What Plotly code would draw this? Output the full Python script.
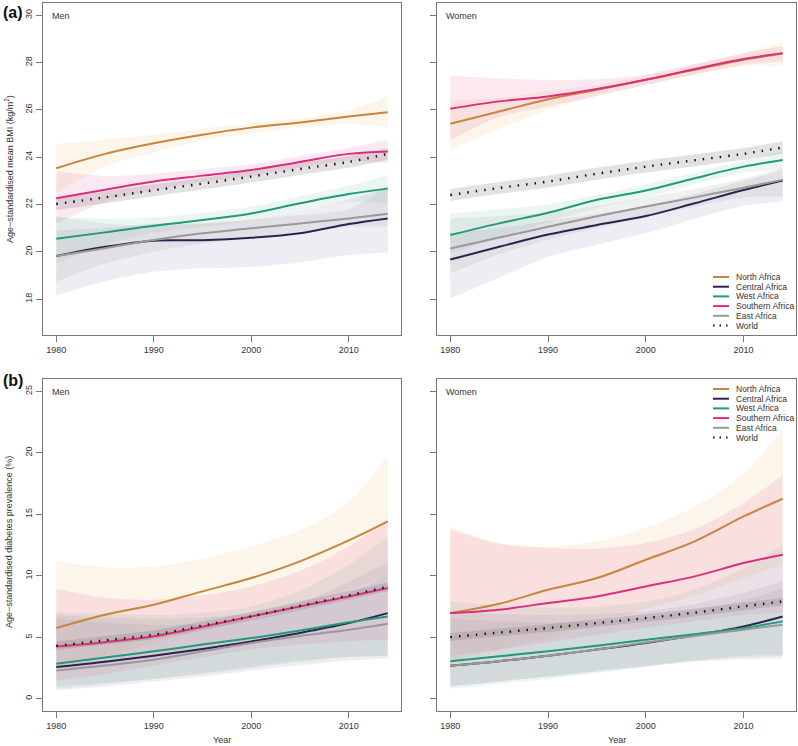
import plotly.graph_objs as go

W, H = 798, 746

years = [1980, 1985, 1990, 1995, 2000, 2005, 2010, 2014]
regions = ["North Africa", "Central Africa", "West Africa", "Southern Africa", "East Africa", "World"]
x_ticks = [1980, 1990, 2000, 2010]
bmi_ticks = [18, 20, 22, 24, 26, 28, 30]
dm_ticks = [0, 5, 10, 15, 20, 25]

# BMI, men (kg/m2)
bmi_men = {
    "North Africa":    [23.53, 24.14, 24.59, 24.95, 25.25, 25.47, 25.72, 25.90],
    "Central Africa":  [19.82, 20.21, 20.47, 20.49, 20.59, 20.78, 21.17, 21.41],
    "West Africa":     [20.55, 20.82, 21.10, 21.34, 21.62, 22.05, 22.44, 22.67],
    "Southern Africa": [22.26, 22.62, 22.97, 23.22, 23.46, 23.80, 24.14, 24.24],
    "East Africa":     [19.82, 20.15, 20.50, 20.78, 20.99, 21.20, 21.41, 21.61],
    "World":           [22.02, 22.30, 22.60, 22.88, 23.18, 23.50, 23.80, 24.14],
}
bmi_men_lo = {
    "North Africa":    [22.50, 23.60, 24.20, 24.70, 25.00, 25.25, 25.40, 25.27],
    "Central Africa":  [18.16, 18.75, 19.15, 19.30, 19.36, 19.55, 19.86, 19.97],
    "West Africa":     [19.50, 20.30, 20.80, 21.05, 21.30, 21.70, 22.10, 22.05],
    "Southern Africa": [21.20, 22.10, 22.60, 22.95, 23.20, 23.55, 23.85, 23.74],
    "East Africa":     [18.73, 19.50, 20.00, 20.35, 20.60, 20.85, 21.05, 21.06],
    "World":           [21.77, 22.05, 22.35, 22.63, 22.93, 23.25, 23.55, 23.89],
}
bmi_men_hi = {
    "North Africa":    [24.56, 24.75, 24.95, 25.20, 25.45, 25.65, 26.00, 26.57],
    "Central Africa":  [20.90, 21.00, 21.20, 21.20, 21.35, 21.70, 22.20, 22.75],
    "West Africa":     [21.48, 21.40, 21.45, 21.65, 21.90, 22.35, 22.80, 23.25],
    "Southern Africa": [23.39, 23.20, 23.30, 23.50, 23.70, 24.05, 24.40, 24.73],
    "East Africa":     [21.48, 21.20, 21.10, 21.20, 21.35, 21.55, 21.80, 22.80],
    "World":           [22.27, 22.55, 22.85, 23.13, 23.43, 23.75, 24.05, 24.39],
}

# BMI, women (kg/m2)
bmi_women = {
    "North Africa":    [25.41, 25.93, 26.45, 26.85, 27.27, 27.70, 28.12, 28.38],
    "Central Africa":  [19.67, 20.21, 20.73, 21.13, 21.51, 22.05, 22.61, 23.01],
    "West Africa":     [20.71, 21.20, 21.65, 22.20, 22.59, 23.11, 23.60, 23.88],
    "Southern Africa": [26.05, 26.36, 26.57, 26.88, 27.27, 27.73, 28.15, 28.40],
    "East Africa":     [20.14, 20.60, 21.06, 21.50, 21.91, 22.30, 22.71, 23.04],
    "World":           [22.40, 22.70, 22.97, 23.30, 23.60, 23.87, 24.14, 24.41],
}
bmi_women_lo = {
    "North Africa":    [24.31, 25.20, 26.00, 26.60, 27.05, 27.50, 27.85, 27.84],
    "Central Africa":  [18.02, 18.90, 19.79, 20.30, 20.78, 21.40, 21.95, 22.12],
    "West Africa":     [19.93, 20.60, 21.25, 21.85, 22.30, 22.85, 23.35, 23.46],
    "Southern Africa": [24.73, 25.70, 26.14, 26.60, 27.05, 27.50, 27.90, 28.05],
    "East Africa":     [19.08, 19.90, 20.50, 21.00, 21.45, 21.90, 22.30, 22.33],
    "World":           [22.15, 22.45, 22.72, 23.05, 23.35, 23.62, 23.89, 24.16],
}
bmi_women_hi = {
    "North Africa":    [26.40, 26.50, 26.80, 27.05, 27.45, 27.90, 28.40, 28.86],
    "Central Africa":  [20.78, 21.00, 21.30, 21.60, 21.95, 22.45, 23.00, 23.46],
    "West Africa":     [21.62, 21.80, 22.00, 22.40, 22.85, 23.35, 23.85, 24.24],
    "Southern Africa": [27.44, 27.33, 27.27, 27.30, 27.50, 27.95, 28.40, 28.69],
    "East Africa":     [21.41, 21.50, 21.65, 21.95, 22.30, 22.65, 23.10, 23.53],
    "World":           [22.65, 22.95, 23.22, 23.55, 23.85, 24.12, 24.39, 24.66],
}

# diabetes prevalence, men (%)
dm_men = {
    "North Africa":    [5.75, 6.83, 7.64, 8.73, 9.81, 11.17, 12.87, 14.42],
    "Central Africa":  [2.57, 3.00, 3.50, 4.05, 4.66, 5.35, 6.15, 6.96],
    "West Africa":     [2.85, 3.35, 3.85, 4.40, 4.93, 5.55, 6.21, 6.69],
    "Southern Africa": [4.25, 4.60, 5.07, 5.85, 6.69, 7.50, 8.32, 9.00],
    "East Africa":     [2.30, 2.70, 3.17, 3.85, 4.53, 5.10, 5.61, 6.10],
    "World":           [4.30, 4.75, 5.20, 5.95, 6.70, 7.55, 8.40, 9.10],
}
dm_men_lo = {
    "North Africa":    [2.50, 3.50, 4.50, 5.50, 6.50, 7.50, 8.80, 10.00],
    "Central Africa":  [0.70, 1.00, 1.40, 1.80, 2.30, 2.70, 3.10, 3.30],
    "West Africa":     [0.80, 1.20, 1.60, 2.00, 2.50, 3.00, 3.40, 3.50],
    "Southern Africa": [1.50, 2.00, 2.70, 3.40, 4.00, 4.40, 4.70, 4.80],
    "East Africa":     [1.00, 1.30, 1.60, 2.10, 2.60, 3.10, 3.40, 3.50],
    "World":           [3.95, 4.40, 4.85, 5.60, 6.35, 7.20, 8.05, 8.75],
}
dm_men_hi = {
    "North Africa":    [11.17, 10.70, 10.76, 11.40, 12.40, 13.70, 16.00, 19.80],
    "Central Africa":  [6.80, 6.60, 6.50, 6.60, 7.00, 7.80, 9.50, 11.10],
    "West Africa":     [7.00, 6.90, 6.80, 7.00, 7.50, 8.80, 10.90, 13.20],
    "Southern Africa": [8.94, 8.20, 8.05, 8.40, 9.13, 10.40, 12.38, 14.69],
    "East Africa":     [6.50, 6.20, 6.00, 6.10, 6.50, 7.30, 8.50, 10.00],
    "World":           [4.65, 5.10, 5.55, 6.30, 7.05, 7.90, 8.75, 9.45],
}

# diabetes prevalence, women (%)
dm_women = {
    "North Africa":    [6.96, 7.72, 8.86, 9.81, 11.30, 12.80, 14.82, 16.26],
    "Central Africa":  [2.68, 3.05, 3.50, 4.00, 4.53, 5.15, 5.88, 6.69],
    "West Africa":     [3.04, 3.45, 3.85, 4.30, 4.80, 5.25, 5.75, 6.29],
    "Southern Africa": [6.96, 7.24, 7.78, 8.32, 9.13, 9.95, 11.03, 11.71],
    "East Africa":     [2.68, 3.05, 3.50, 4.00, 4.58, 5.10, 5.61, 6.02],
    "World":           [5.01, 5.38, 5.75, 6.15, 6.56, 7.00, 7.51, 7.91],
}
dm_women_lo = {
    "North Africa":    [3.00, 4.00, 5.00, 6.20, 7.30, 8.40, 9.80, 11.00],
    "Central Africa":  [1.00, 1.40, 1.80, 2.20, 2.60, 3.00, 3.20, 3.30],
    "West Africa":     [0.80, 1.20, 1.60, 2.10, 2.60, 3.10, 3.50, 3.60],
    "Southern Africa": [3.50, 4.00, 4.60, 5.20, 5.80, 6.30, 6.80, 7.00],
    "East Africa":     [1.00, 1.40, 1.80, 2.30, 2.70, 3.10, 3.40, 3.50],
    "World":           [4.70, 5.07, 5.44, 5.84, 6.25, 6.69, 7.20, 7.60],
}
dm_women_hi = {
    "North Africa":    [14.00, 12.66, 12.38, 12.80, 13.90, 15.60, 18.30, 21.90],
    "Central Africa":  [7.00, 6.90, 6.80, 6.90, 7.10, 7.70, 8.60, 9.60],
    "West Africa":     [7.90, 7.60, 7.40, 7.50, 7.90, 8.90, 10.60, 12.50],
    "Southern Africa": [13.74, 12.60, 12.25, 12.20, 12.66, 13.80, 15.90, 18.20],
    "East Africa":     [6.50, 6.30, 6.20, 6.30, 6.60, 7.20, 8.00, 9.00],
    "World":           [5.32, 5.69, 6.06, 6.46, 6.87, 7.31, 7.82, 8.22],
}

line_col = {
    "North Africa": "#C8853E",
    "Central Africa": "#2B2250",
    "West Africa": "#219A78",
    "Southern Africa": "#D92F7C",
    "East Africa": "#9A9898",
    "World": "#111111",
}
band_col = {
    "North Africa": "rgba(238,190,120,0.16)",
    "Central Africa": "rgba(120,105,160,0.12)",
    "West Africa": "rgba(110,190,160,0.14)",
    "Southern Africa": "rgba(232,100,160,0.15)",
    "East Africa": "rgba(150,150,150,0.14)",
    "World": "rgba(60,60,60,0.15)",
}

FONT = "Liberation Sans, Arial, Helvetica, sans-serif"


def px(x):
    return x / W


def py(y):
    return 1 - y / H


fig = go.Figure()

panels = [
    ("x", "y", bmi_men, bmi_men_lo, bmi_men_hi),
    ("x2", "y2", bmi_women, bmi_women_lo, bmi_women_hi),
    ("x3", "y3", dm_men, dm_men_lo, dm_men_hi),
    ("x4", "y4", dm_women, dm_women_lo, dm_women_hi),
]

for xa, ya, mean, lo, hi in panels:
    # uncertainty bands: lower edge, then upper edge filled down to it
    for r in regions:
        fig.add_trace(go.Scatter(x=years, y=lo[r], mode="lines",
                                 line=dict(width=0, shape="spline", smoothing=0.8),
                                 hoverinfo="skip", showlegend=False, xaxis=xa, yaxis=ya))
        fig.add_trace(go.Scatter(x=years, y=hi[r], mode="lines", fill="tonexty",
                                 fillcolor=band_col[r],
                                 line=dict(width=0, shape="spline", smoothing=0.8),
                                 hoverinfo="skip", showlegend=False, xaxis=xa, yaxis=ya))
    for r in regions:
        if r == "World":
            ln = dict(color=line_col[r], width=2.4, dash="1.5px,7px", shape="spline")
        else:
            ln = dict(color=line_col[r], width=2, shape="spline")
        fig.add_trace(go.Scatter(x=years, y=mean[r], mode="lines", line=ln, name=r,
                                 showlegend=False, xaxis=xa, yaxis=ya))

left_dom = [px(43), px(401)]
right_dom = [px(437), px(796)]
top_dom = [py(335), py(3)]
bot_dom = [py(711), py(379)]

ax_common = dict(showline=True, mirror=True, linecolor="#777777", linewidth=1,
                 ticks="outside", ticklen=6, tickcolor="#777777", showgrid=False,
                 zeroline=False, tickfont=dict(family=FONT, size=9, color="#333333"))

xa_common = dict(ax_common, range=[1978.64, 2015.36], tickvals=x_ticks)
fig.update_layout(
    xaxis=dict(xa_common, domain=left_dom, anchor="y"),
    xaxis2=dict(xa_common, domain=right_dom, anchor="y2"),
    xaxis3=dict(xa_common, domain=left_dom, anchor="y3"),
    xaxis4=dict(xa_common, domain=right_dom, anchor="y4"),
    yaxis=dict(ax_common, domain=top_dom, anchor="x", range=[16.48, 30.52],
               tickvals=bmi_ticks, tickangle=-90),
    yaxis2=dict(ax_common, domain=top_dom, anchor="x2", range=[16.48, 30.52],
                tickvals=bmi_ticks, showticklabels=False),
    yaxis3=dict(ax_common, domain=bot_dom, anchor="x3", range=[-1, 26],
                tickvals=dm_ticks, tickangle=-90),
    yaxis4=dict(ax_common, domain=bot_dom, anchor="x4", range=[-1, 26],
                tickvals=dm_ticks, showticklabels=False),
)

ann = []
shapes = []
txt = dict(family=FONT, size=9, color="#333333")

# panel letters
ann.append(dict(text="<b>(a)</b>", x=px(1), y=py(12), xref="paper", yref="paper",
                xanchor="left", yanchor="middle", showarrow=False,
                font=dict(family=FONT, size=16, color="#111111")))
ann.append(dict(text="<b>(b)</b>", x=px(1), y=py(380), xref="paper", yref="paper",
                xanchor="left", yanchor="middle", showarrow=False,
                font=dict(family=FONT, size=16, color="#111111")))

# sex labels
for x0, y0, t in [(50, 16, "Men"), (444, 16, "Women"), (50, 392, "Men"), (444, 392, "Women")]:
    ann.append(dict(text=t, x=px(x0), y=py(y0), xref="paper", yref="paper",
                    xanchor="left", yanchor="middle", showarrow=False, font=txt))

# y titles
ann.append(dict(text="Age\u2212standardised mean BMI (kg/m<sup>2</sup>)", x=px(9), y=py(169),
                xref="paper", yref="paper", textangle=-90, showarrow=False,
                xanchor="center", yanchor="middle", font=txt))
ann.append(dict(text="Age\u2212standardised diabetes prevalence (%)", x=px(9), y=py(542),
                xref="paper", yref="paper", textangle=-90, showarrow=False,
                xanchor="center", yanchor="middle", font=txt))

# x titles
for xc in [222, 617]:
    ann.append(dict(text="Year", x=px(xc), y=py(740), xref="paper", yref="paper",
                    showarrow=False, xanchor="center", yanchor="middle", font=txt))

# legends
for top in [277, 389]:
    for i, r in enumerate(regions):
        yy = top + i * 9.7
        if r == "World":
            shapes.append(dict(type="line", xref="paper", yref="paper",
                               x0=px(713), x1=px(729), y0=py(yy), y1=py(yy),
                               line=dict(color=line_col[r], width=2.2, dash="1.5px,5px")))
        else:
            shapes.append(dict(type="line", xref="paper", yref="paper",
                               x0=px(713), x1=px(729), y0=py(yy), y1=py(yy),
                               line=dict(color=line_col[r], width=2)))
        ann.append(dict(text=r, x=px(735), y=py(yy), xref="paper", yref="paper",
                        showarrow=False, xanchor="left", yanchor="middle", height=9.5,
                        borderpad=0, font=dict(family=FONT, size=8.5, color="#333333")))

fig.update_layout(
    width=W, height=H, margin=dict(l=0, r=0, t=0, b=0),
    paper_bgcolor="white", plot_bgcolor="white",
    annotations=ann, shapes=shapes, showlegend=False,
    font=dict(family=FONT),
)

fig.write_html("out.html", config={"displayModeBar": False},
               post_script="document.body.style.margin='0';document.body.style.overflow='hidden';")
